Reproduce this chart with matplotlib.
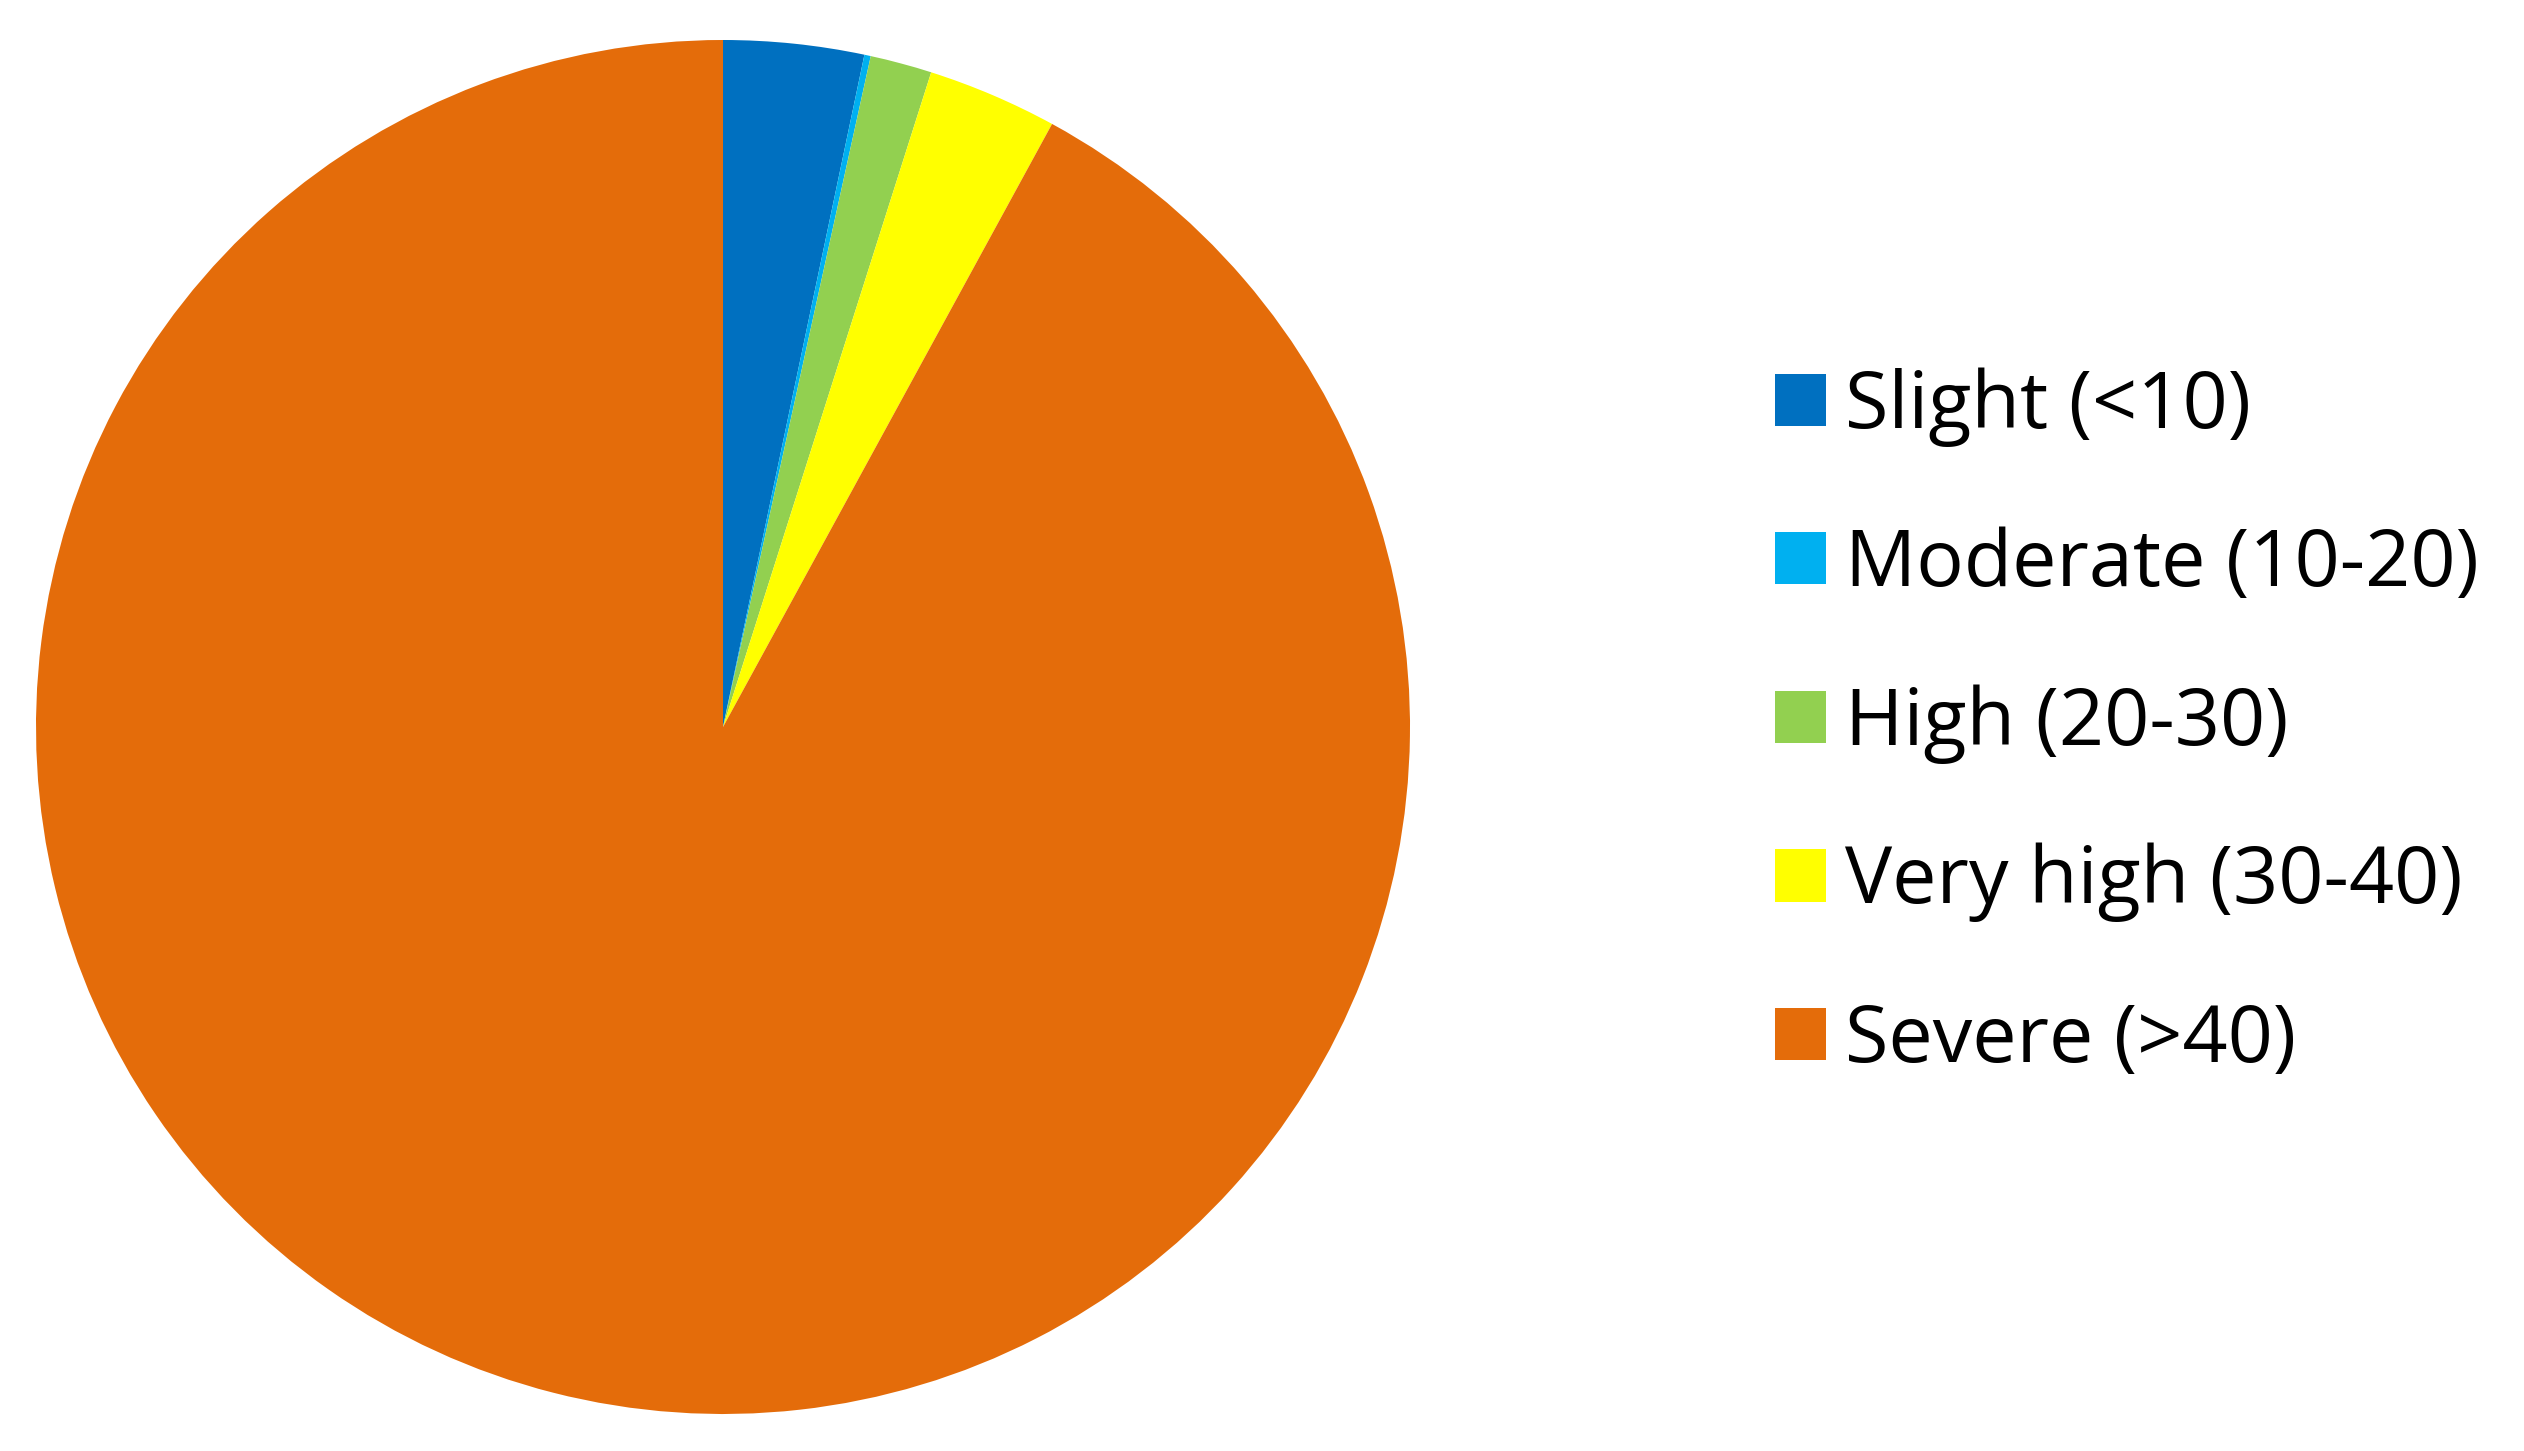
import matplotlib.pyplot as plt
from matplotlib.patches import Patch

categories = ["Slight (<10)", "Moderate (10-20)", "High (20-30)",
              "Very high (30-40)", "Severe (>40)"]
shares = [3.3, 0.15, 1.45, 3.05, 92.05]
colors = ["#0070C0", "#00B0F0", "#92D050", "#FFFF00", "#E46C0A"]

W, H = 2524, 1451
fig = plt.figure(figsize=(W / 100, H / 100), dpi=100)

# pie: centre ~ (723, 727) px, radius ~ 687 px
cx, cy, r = 723, 727, 687
ax = fig.add_axes([(cx - r) / W, (H - cy - r) / H, 2 * r / W, 2 * r / H])
ax.pie(shares, colors=colors, startangle=90, counterclock=False,
       radius=1, wedgeprops=dict(linewidth=0))
ax.set_xlim(-1, 1)
ax.set_ylim(-1, 1)
ax.axis("off")

handles = [Patch(facecolor=c, edgecolor="none") for c in colors]
fig.legend(handles, categories, loc="center left",
           bbox_to_anchor=(1775 / W, 1 - 724 / H),
           frameon=False, borderpad=0, borderaxespad=0,
           handlelength=0.64, handleheight=0.64, handletextpad=0.25,
           labelspacing=1.0,
           prop=dict(family=["Open Sans", "DejaVu Sans"], size=57))

fig.savefig("out.png", dpi=100, facecolor="white")
